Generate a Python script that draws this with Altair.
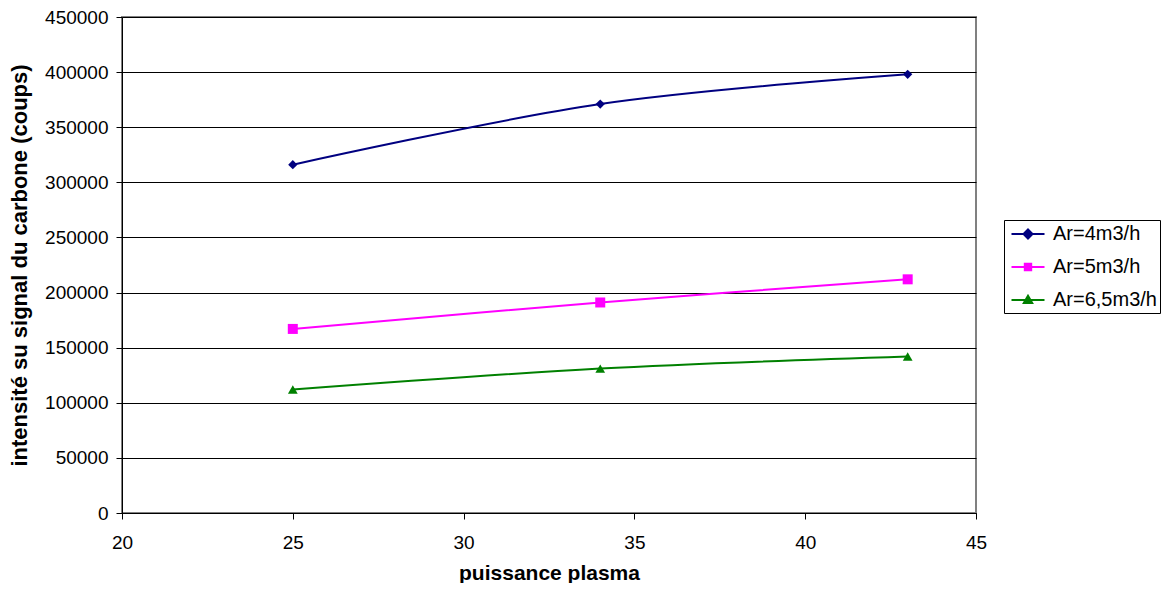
import altair as alt
import pandas as pd

# ---- data ----
x_vals = [25, 34, 43]
ar4 = [316000, 371000, 398000]
ar5 = [167000, 191000, 212000]
ar65 = [112000, 131000, 142000]

series_names = ["Ar=4m3/h", "Ar=5m3/h", "Ar=6,5m3/h"]
series_values = [ar4, ar5, ar65]
series_colors = ["#000080", "#FF00FF", "#008000"]
series_shapes = ["diamond", "square", "triangle-up"]
series_sizes = [85, 100, 95]

x_ticks = [20, 25, 30, 35, 40, 45]
y_ticks = [0, 50000, 100000, 150000, 200000, 250000, 300000, 350000, 400000, 450000]

# legend symbols: line segment with marker in the middle
legend_paths = [
    "M-1.65,0H1.65M0,-0.45L0.45,0L0,0.45L-0.45,0Z",
    "M-1.65,0H1.65M-0.32,-0.32H0.32V0.32H-0.32Z",
    "M-1.65,0H1.65M0,-0.42L0.42,0.3H-0.42Z",
]

rows = []
for name, vals, col, shp, sz in zip(series_names, series_values, series_colors, series_shapes, series_sizes):
    for xv, yv in zip(x_vals, vals):
        rows.append({"series": name, "x": xv, "y": yv, "col": col, "shp": shp, "sz": sz})
df = pd.DataFrame(rows)

FONT = "Liberation Sans"

x_enc = alt.X(
    "x:Q",
    scale=alt.Scale(domain=[20, 45], nice=False, zero=False),
    axis=alt.Axis(
        values=x_ticks, grid=False, title="puissance plasma",
        labelFlush=False, tickSize=6, labelPadding=14, titlePadding=10,
        titleFontSize=21,
    ),
)
y_enc = alt.Y(
    "y:Q",
    scale=alt.Scale(domain=[0, 450000], nice=False),
    axis=alt.Axis(
        values=y_ticks, format="d", grid=True,
        title="intensité su signal du carbone (coups)",
        tickSize=6, labelPadding=8, titlePadding=13,
    ),
)

base = alt.Chart(df)

lines = base.mark_line(strokeWidth=2, interpolate="catmull-rom").encode(
    x=x_enc, y=y_enc,
    color=alt.Color("col:N", scale=None),
    detail="series:N",
)

points = base.mark_point(filled=True, opacity=1).encode(
    x=x_enc, y=y_enc,
    color=alt.Color("col:N", scale=None),
    shape=alt.Shape("shp:N", scale=None),
    size=alt.Size("sz:Q", scale=None),
)

legend_layer = base.transform_filter("false").mark_point(filled=True, opacity=1).encode(
    x=x_enc, y=y_enc,
    fill=alt.Fill("series:N", scale=alt.Scale(domain=series_names, range=series_colors),
                  legend=alt.Legend(title=None)),
    stroke=alt.Stroke("series:N", scale=alt.Scale(domain=series_names, range=series_colors),
                      legend=alt.Legend(title=None)),
    shape=alt.Shape("series:N", scale=alt.Scale(domain=series_names, range=legend_paths),
                    legend=alt.Legend(title=None)),
)

chart = alt.layer(lines, points, legend_layer).properties(
    width=854,
    height=496,
    autosize=alt.AutoSizeParams(type="none"),
    padding={"left": 114, "top": 9, "right": 188, "bottom": 70},
).configure_view(
    stroke="#808080", strokeWidth=2,
).configure_axis(
    labelFont=FONT, titleFont=FONT,
    labelFontSize=19, titleFontSize=22, titleFontWeight="bold",
    labelColor="black", titleColor="black",
    domainColor="black", tickColor="black", gridColor="black",
    gridOpacity=1, domainWidth=1, tickWidth=1, gridWidth=1,
).configure_legend(
    orient="none", legendX=882, legendY=203,
    labelFont=FONT, labelFontSize=20, labelColor="black",
    symbolSize=400, symbolStrokeWidth=2, symbolOpacity=1, symbolOffset=10,
    rowPadding=12, labelOffset=14, padding=3,
    strokeColor="black", fillColor="white",
)

chart.save("out.html", embed_options={"renderer": "svg", "actions": False})
